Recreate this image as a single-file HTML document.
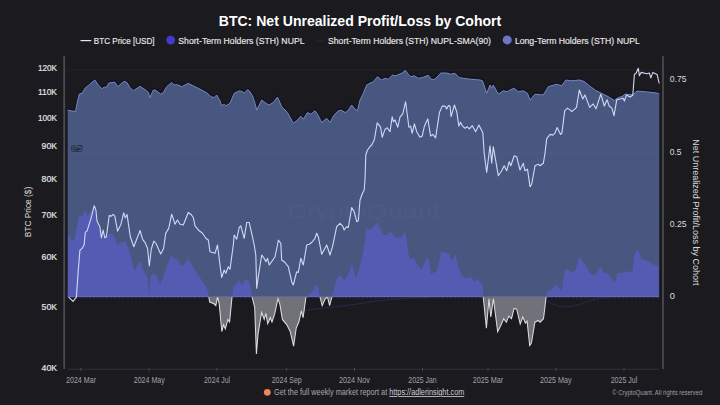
<!DOCTYPE html>
<html><head><meta charset="utf-8">
<style>
html,body{margin:0;padding:0;background:#1b1a1f;}
body{width:720px;height:405px;overflow:hidden;position:relative;}
svg{position:absolute;left:0;top:0;}
text{font-family:"Liberation Sans",sans-serif;}
</style></head><body>
<svg width="720" height="405" viewBox="0 0 720 405">
<defs>
<clipPath id="pos"><rect x="0" y="0" width="720" height="297.0"/></clipPath>
<clipPath id="neg"><rect x="0" y="297.0" width="720" height="120"/></clipPath>
</defs>
<rect width="720" height="405" fill="#1b1a1f"/>
<!-- title -->
<text x="360" y="25.8" text-anchor="middle" font-size="14.6" font-weight="bold" fill="#ffffff" textLength="282.5" lengthAdjust="spacingAndGlyphs">BTC: Net Unrealized Profit/Loss by Cohort</text>
<!-- legend -->
<line x1="80.5" y1="40.6" x2="91.2" y2="40.6" stroke="#e8e8e8" stroke-width="1.2"/>
<text x="93.8" y="43.9" font-size="9" fill="#e8e8e8" stroke="#e8e8e8" stroke-width="0.15" textLength="60.7" lengthAdjust="spacingAndGlyphs">BTC Price [USD]</text>
<circle cx="170.6" cy="40.1" r="4.4" fill="#4539cc"/>
<text x="178.3" y="43.9" font-size="9" fill="#e8e8e8" stroke="#e8e8e8" stroke-width="0.15" textLength="126.2" lengthAdjust="spacingAndGlyphs">Short-Term Holders (STH) NUPL</text>
<line x1="315" y1="41" x2="323.7" y2="41" stroke="#25243a" stroke-width="1.2"/>
<text x="328" y="43.9" font-size="9" fill="#e8e8e8" stroke="#e8e8e8" stroke-width="0.15" textLength="162.9" lengthAdjust="spacingAndGlyphs">Short-Term Holders (STH) NUPL-SMA(90)</text>
<circle cx="507.2" cy="39.9" r="4.5" fill="#6b77c4"/>
<text x="514.9" y="43.9" font-size="9" fill="#e8e8e8" stroke="#e8e8e8" stroke-width="0.15" textLength="124.9" lengthAdjust="spacingAndGlyphs">Long-Term Holders (STH) NUPL</text>
<!-- gridlines -->
<line x1="67.7" y1="70.1" x2="659" y2="70.1" stroke="#252429" stroke-width="1"/>
<line x1="67.7" y1="78.7" x2="659" y2="78.7" stroke="#1f1e24" stroke-width="1"/>
<!-- SMA lines -->
<polyline points="300.0,311.5 315.0,309.0 330.0,307.5 345.0,305.5 356.7,304.2 370.0,302.0 390.0,299.5 410.0,298.0 430.0,297.3" fill="none" stroke="#29285a" stroke-width="0.9"/>
<polyline points="540.0,299.0 550.0,302.8 558.9,306.1 570.0,306.7 580.0,304.4 587.8,301.1 596.7,298.9 610.0,297.5" fill="none" stroke="#29285a" stroke-width="0.9"/>
<!-- LTH -->
<polyline points="67.7,110.2 71.1,110.8 75.5,111.5 77.6,101.0 79.3,94.0 82.2,93.3 85.2,88.0 89.6,84.4 94.8,80.0 98.5,85.2 102.2,88.9 104.4,86.7 105.9,88.0 108.9,83.0 114.8,82.2 117.8,86.7 123.7,81.5 126.7,82.2 130.0,87.5 133.3,90.8 140.0,86.3 146.7,90.8 148.3,92.5 150.0,97.5 153.3,90.0 155.8,90.3 160.8,94.2 163.3,92.5 166.7,86.7 171.7,82.5 174.2,85.0 177.5,84.7 181.7,86.7 188.3,83.3 193.3,85.8 200.0,89.2 207.5,93.3 210.8,96.7 214.2,97.5 216.7,95.0 220.0,100.8 221.7,105.8 224.2,104.2 225.8,105.8 230.0,103.3 234.2,93.3 239.2,90.8 242.5,91.7 244.2,93.3 247.5,89.7 249.2,90.8 252.5,95.8 255.0,103.3 256.7,110.0 261.7,100.0 265.0,102.5 266.7,103.7 269.2,105.0 273.3,102.5 277.5,97.0 281.7,106.7 287.5,112.5 293.3,123.3 297.5,120.0 300.8,116.3 303.3,119.2 307.5,112.5 310.8,114.2 315.0,110.8 317.5,114.2 321.7,122.5 326.7,118.3 330.0,122.5 334.2,115.0 338.3,110.8 341.7,110.3 345.0,112.5 347.5,111.3 351.7,105.0 355.0,109.2 357.5,110.8 360.0,100.0 363.3,93.3 366.7,85.0 370.0,83.3 373.3,81.7 377.5,76.7 381.7,80.0 385.0,78.3 388.3,79.2 392.5,75.0 395.8,75.8 399.2,74.2 401.7,73.3 405.3,70.3 408.3,74.2 410.8,76.7 414.2,75.8 418.3,78.3 422.5,77.5 428.3,75.3 431.7,79.7 435.0,79.2 440.8,73.0 446.7,73.0 450.8,74.2 455.0,73.3 459.2,77.5 463.3,78.3 470.0,79.2 476.7,79.7 480.0,80.0 482.5,80.8 486.7,93.3 490.0,85.0 491.7,88.3 493.3,85.0 498.3,94.2 503.3,90.8 507.5,91.7 510.0,90.0 514.2,88.3 518.3,91.7 523.3,90.8 527.5,93.3 530.0,100.0 535.0,94.2 543.3,95.0 548.3,86.7 556.7,84.2 561.7,85.8 565.8,80.0 570.8,80.8 580.0,80.0 584.2,81.5 589.6,85.9 595.6,90.4 603.0,94.0 608.9,97.0 614.8,100.7 616.3,98.5 622.2,96.3 625.2,94.0 632.6,94.8 637.0,91.1 641.1,91.4 649.4,92.2 657.8,93.2 659.2,93.9" fill="none" stroke="#121527" stroke-width="2.6" stroke-linejoin="round" transform="translate(0,-0.9)" opacity="0.9"/>
<polygon points="67.7,297.0 67.7,110.2 71.1,110.8 75.5,111.5 77.6,101.0 79.3,94.0 82.2,93.3 85.2,88.0 89.6,84.4 94.8,80.0 98.5,85.2 102.2,88.9 104.4,86.7 105.9,88.0 108.9,83.0 114.8,82.2 117.8,86.7 123.7,81.5 126.7,82.2 130.0,87.5 133.3,90.8 140.0,86.3 146.7,90.8 148.3,92.5 150.0,97.5 153.3,90.0 155.8,90.3 160.8,94.2 163.3,92.5 166.7,86.7 171.7,82.5 174.2,85.0 177.5,84.7 181.7,86.7 188.3,83.3 193.3,85.8 200.0,89.2 207.5,93.3 210.8,96.7 214.2,97.5 216.7,95.0 220.0,100.8 221.7,105.8 224.2,104.2 225.8,105.8 230.0,103.3 234.2,93.3 239.2,90.8 242.5,91.7 244.2,93.3 247.5,89.7 249.2,90.8 252.5,95.8 255.0,103.3 256.7,110.0 261.7,100.0 265.0,102.5 266.7,103.7 269.2,105.0 273.3,102.5 277.5,97.0 281.7,106.7 287.5,112.5 293.3,123.3 297.5,120.0 300.8,116.3 303.3,119.2 307.5,112.5 310.8,114.2 315.0,110.8 317.5,114.2 321.7,122.5 326.7,118.3 330.0,122.5 334.2,115.0 338.3,110.8 341.7,110.3 345.0,112.5 347.5,111.3 351.7,105.0 355.0,109.2 357.5,110.8 360.0,100.0 363.3,93.3 366.7,85.0 370.0,83.3 373.3,81.7 377.5,76.7 381.7,80.0 385.0,78.3 388.3,79.2 392.5,75.0 395.8,75.8 399.2,74.2 401.7,73.3 405.3,70.3 408.3,74.2 410.8,76.7 414.2,75.8 418.3,78.3 422.5,77.5 428.3,75.3 431.7,79.7 435.0,79.2 440.8,73.0 446.7,73.0 450.8,74.2 455.0,73.3 459.2,77.5 463.3,78.3 470.0,79.2 476.7,79.7 480.0,80.0 482.5,80.8 486.7,93.3 490.0,85.0 491.7,88.3 493.3,85.0 498.3,94.2 503.3,90.8 507.5,91.7 510.0,90.0 514.2,88.3 518.3,91.7 523.3,90.8 527.5,93.3 530.0,100.0 535.0,94.2 543.3,95.0 548.3,86.7 556.7,84.2 561.7,85.8 565.8,80.0 570.8,80.8 580.0,80.0 584.2,81.5 589.6,85.9 595.6,90.4 603.0,94.0 608.9,97.0 614.8,100.7 616.3,98.5 622.2,96.3 625.2,94.0 632.6,94.8 637.0,91.1 641.1,91.4 649.4,92.2 657.8,93.2 659.2,93.9 659.2,297.0" fill="#48577f"/>
<polyline points="67.7,110.2 71.1,110.8 75.5,111.5 77.6,101.0 79.3,94.0 82.2,93.3 85.2,88.0 89.6,84.4 94.8,80.0 98.5,85.2 102.2,88.9 104.4,86.7 105.9,88.0 108.9,83.0 114.8,82.2 117.8,86.7 123.7,81.5 126.7,82.2 130.0,87.5 133.3,90.8 140.0,86.3 146.7,90.8 148.3,92.5 150.0,97.5 153.3,90.0 155.8,90.3 160.8,94.2 163.3,92.5 166.7,86.7 171.7,82.5 174.2,85.0 177.5,84.7 181.7,86.7 188.3,83.3 193.3,85.8 200.0,89.2 207.5,93.3 210.8,96.7 214.2,97.5 216.7,95.0 220.0,100.8 221.7,105.8 224.2,104.2 225.8,105.8 230.0,103.3 234.2,93.3 239.2,90.8 242.5,91.7 244.2,93.3 247.5,89.7 249.2,90.8 252.5,95.8 255.0,103.3 256.7,110.0 261.7,100.0 265.0,102.5 266.7,103.7 269.2,105.0 273.3,102.5 277.5,97.0 281.7,106.7 287.5,112.5 293.3,123.3 297.5,120.0 300.8,116.3 303.3,119.2 307.5,112.5 310.8,114.2 315.0,110.8 317.5,114.2 321.7,122.5 326.7,118.3 330.0,122.5 334.2,115.0 338.3,110.8 341.7,110.3 345.0,112.5 347.5,111.3 351.7,105.0 355.0,109.2 357.5,110.8 360.0,100.0 363.3,93.3 366.7,85.0 370.0,83.3 373.3,81.7 377.5,76.7 381.7,80.0 385.0,78.3 388.3,79.2 392.5,75.0 395.8,75.8 399.2,74.2 401.7,73.3 405.3,70.3 408.3,74.2 410.8,76.7 414.2,75.8 418.3,78.3 422.5,77.5 428.3,75.3 431.7,79.7 435.0,79.2 440.8,73.0 446.7,73.0 450.8,74.2 455.0,73.3 459.2,77.5 463.3,78.3 470.0,79.2 476.7,79.7 480.0,80.0 482.5,80.8 486.7,93.3 490.0,85.0 491.7,88.3 493.3,85.0 498.3,94.2 503.3,90.8 507.5,91.7 510.0,90.0 514.2,88.3 518.3,91.7 523.3,90.8 527.5,93.3 530.0,100.0 535.0,94.2 543.3,95.0 548.3,86.7 556.7,84.2 561.7,85.8 565.8,80.0 570.8,80.8 580.0,80.0 584.2,81.5 589.6,85.9 595.6,90.4 603.0,94.0 608.9,97.0 614.8,100.7 616.3,98.5 622.2,96.3 625.2,94.0 632.6,94.8 637.0,91.1 641.1,91.4 649.4,92.2 657.8,93.2 659.2,93.9" fill="none" stroke="#7b88b8" stroke-width="1"/>
<!-- gridlines over area -->
<line x1="67.7" y1="152.3" x2="659" y2="152.3" stroke="#4e5d88" stroke-width="0.8"/>
<text x="287.5" y="217.5" font-size="20" fill="#ffffff" opacity="0.022" textLength="152.5" lengthAdjust="spacingAndGlyphs">CryptoQuant</text>
<!-- STH -->
<line x1="67.7" y1="297.9" x2="659" y2="297.9" stroke="#2a2858" stroke-width="1.4" stroke-dasharray="2.2,2"/>

<polygon points="67.8,297.0 68.1,236.1 69.8,235.6 72.0,241.1 74.2,240.0 77.0,226.7 78.7,216.7 80.3,215.6 82.6,216.7 84.2,210.6 85.9,212.2 87.6,215.6 89.8,213.3 92.0,210.0 94.2,206.1 96.4,218.9 98.7,226.7 100.9,233.3 103.1,237.8 105.3,236.7 108.7,234.4 110.9,233.3 114.2,235.6 117.4,245.0 122.3,242.0 125.7,241.0 129.2,250.4 134.4,271.1 137.0,266.0 139.8,261.3 144.5,272.2 147.9,279.0 149.3,297.0 150.6,276.2 153.3,272.9 156.7,275.6 160.1,284.4 163.5,276.2 167.6,264.0 171.0,255.2 175.0,259.0 177.5,260.0 181.7,265.8 184.2,265.0 188.3,258.3 191.7,264.2 195.0,270.0 200.0,277.5 205.0,285.0 208.3,291.7 208.8,297.0 209.7,302.1 214.0,303.8 215.8,305.6 217.5,297.0 219.2,303.8 221.8,331.5 223.5,324.6 225.3,328.9 227.9,319.4 229.6,322.0 232.0,297.0 233.3,286.7 236.7,283.3 239.2,280.0 241.7,285.8 245.0,280.0 248.3,280.0 250.8,288.3 252.1,297.0 254.7,307.3 256.4,354.0 258.1,333.3 261.6,312.5 264.2,319.4 265.9,313.4 267.7,323.7 270.3,317.7 272.0,322.0 274.6,314.2 278.0,298.7 279.8,303.8 282.4,319.4 286.7,324.6 290.2,331.5 293.6,346.2 296.2,328.1 298.8,322.0 301.4,310.8 303.1,317.7 305.7,298.7 305.9,297.0 308.9,294.4 313.3,290.0 316.3,284.1 318.5,288.5 320.0,297.0 322.2,305.6 325.2,298.9 327.5,297.0 329.6,305.6 331.9,297.0 334.1,287.0 338.5,275.9 340.7,275.2 344.4,280.4 347.4,276.7 351.9,264.1 356.3,278.1 359.3,267.8 362.2,256.7 365.2,240.0 366.0,228.3 370.0,230.0 373.3,226.7 376.7,222.5 380.0,226.7 383.3,235.0 386.7,235.0 391.7,231.7 395.0,237.5 400.8,237.5 405.0,231.7 406.7,238.7 408.5,254.2 411.0,260.3 413.7,256.8 417.1,264.6 421.4,269.8 424.0,263.7 428.4,256.8 431.0,274.1 437.0,270.7 441.3,251.6 445.7,252.5 449.1,254.2 451.7,261.1 455.2,254.2 457.8,264.6 461.2,274.1 464.7,278.4 470.7,276.7 474.2,281.9 478.5,278.4 482.9,287.1 483.2,297.0 483.8,302.3 486.4,328.3 489.0,298.8 490.8,317.0 493.4,298.8 497.7,331.7 501.1,324.8 503.7,318.7 506.3,322.2 508.9,316.1 511.5,318.7 514.1,308.4 516.7,309.2 520.2,323.9 522.8,317.0 525.4,323.1 527.1,321.3 529.7,345.6 531.4,343.0 534.9,322.2 538.3,320.5 540.1,322.2 543.5,318.7 546.1,297.0 547.2,291.9 550.8,290.1 557.1,284.6 559.9,289.2 561.7,291.0 564.4,271.1 567.1,269.3 570.7,272.0 575.2,271.1 579.5,256.2 582.4,262.1 585.1,263.0 587.8,269.3 591.4,274.7 595.1,275.6 600.5,266.6 604.1,273.8 606.8,272.0 612.2,279.2 614.9,282.8 617.6,272.9 623.0,272.9 626.6,271.1 632.1,272.9 634.8,253.0 638.4,250.3 641.1,258.5 648.3,261.2 652.8,263.9 656.4,265.7 658.8,266.6 658.8,297.0" fill="#535bb3" clip-path="url(#pos)"/>
<polygon points="67.8,297.0 68.1,236.1 69.8,235.6 72.0,241.1 74.2,240.0 77.0,226.7 78.7,216.7 80.3,215.6 82.6,216.7 84.2,210.6 85.9,212.2 87.6,215.6 89.8,213.3 92.0,210.0 94.2,206.1 96.4,218.9 98.7,226.7 100.9,233.3 103.1,237.8 105.3,236.7 108.7,234.4 110.9,233.3 114.2,235.6 117.4,245.0 122.3,242.0 125.7,241.0 129.2,250.4 134.4,271.1 137.0,266.0 139.8,261.3 144.5,272.2 147.9,279.0 149.3,297.0 150.6,276.2 153.3,272.9 156.7,275.6 160.1,284.4 163.5,276.2 167.6,264.0 171.0,255.2 175.0,259.0 177.5,260.0 181.7,265.8 184.2,265.0 188.3,258.3 191.7,264.2 195.0,270.0 200.0,277.5 205.0,285.0 208.3,291.7 208.8,297.0 209.7,302.1 214.0,303.8 215.8,305.6 217.5,297.0 219.2,303.8 221.8,331.5 223.5,324.6 225.3,328.9 227.9,319.4 229.6,322.0 232.0,297.0 233.3,286.7 236.7,283.3 239.2,280.0 241.7,285.8 245.0,280.0 248.3,280.0 250.8,288.3 252.1,297.0 254.7,307.3 256.4,354.0 258.1,333.3 261.6,312.5 264.2,319.4 265.9,313.4 267.7,323.7 270.3,317.7 272.0,322.0 274.6,314.2 278.0,298.7 279.8,303.8 282.4,319.4 286.7,324.6 290.2,331.5 293.6,346.2 296.2,328.1 298.8,322.0 301.4,310.8 303.1,317.7 305.7,298.7 305.9,297.0 308.9,294.4 313.3,290.0 316.3,284.1 318.5,288.5 320.0,297.0 322.2,305.6 325.2,298.9 327.5,297.0 329.6,305.6 331.9,297.0 334.1,287.0 338.5,275.9 340.7,275.2 344.4,280.4 347.4,276.7 351.9,264.1 356.3,278.1 359.3,267.8 362.2,256.7 365.2,240.0 366.0,228.3 370.0,230.0 373.3,226.7 376.7,222.5 380.0,226.7 383.3,235.0 386.7,235.0 391.7,231.7 395.0,237.5 400.8,237.5 405.0,231.7 406.7,238.7 408.5,254.2 411.0,260.3 413.7,256.8 417.1,264.6 421.4,269.8 424.0,263.7 428.4,256.8 431.0,274.1 437.0,270.7 441.3,251.6 445.7,252.5 449.1,254.2 451.7,261.1 455.2,254.2 457.8,264.6 461.2,274.1 464.7,278.4 470.7,276.7 474.2,281.9 478.5,278.4 482.9,287.1 483.2,297.0 483.8,302.3 486.4,328.3 489.0,298.8 490.8,317.0 493.4,298.8 497.7,331.7 501.1,324.8 503.7,318.7 506.3,322.2 508.9,316.1 511.5,318.7 514.1,308.4 516.7,309.2 520.2,323.9 522.8,317.0 525.4,323.1 527.1,321.3 529.7,345.6 531.4,343.0 534.9,322.2 538.3,320.5 540.1,322.2 543.5,318.7 546.1,297.0 547.2,291.9 550.8,290.1 557.1,284.6 559.9,289.2 561.7,291.0 564.4,271.1 567.1,269.3 570.7,272.0 575.2,271.1 579.5,256.2 582.4,262.1 585.1,263.0 587.8,269.3 591.4,274.7 595.1,275.6 600.5,266.6 604.1,273.8 606.8,272.0 612.2,279.2 614.9,282.8 617.6,272.9 623.0,272.9 626.6,271.1 632.1,272.9 634.8,253.0 638.4,250.3 641.1,258.5 648.3,261.2 652.8,263.9 656.4,265.7 658.8,266.6 658.8,297.0" fill="#707179" clip-path="url(#neg)"/>
<polyline points="67.8,297.0 68.1,236.1 69.8,235.6 72.0,241.1 74.2,240.0 77.0,226.7 78.7,216.7 80.3,215.6 82.6,216.7 84.2,210.6 85.9,212.2 87.6,215.6 89.8,213.3 92.0,210.0 94.2,206.1 96.4,218.9 98.7,226.7 100.9,233.3 103.1,237.8 105.3,236.7 108.7,234.4 110.9,233.3 114.2,235.6 117.4,245.0 122.3,242.0 125.7,241.0 129.2,250.4 134.4,271.1 137.0,266.0 139.8,261.3 144.5,272.2 147.9,279.0 149.3,297.0 150.6,276.2 153.3,272.9 156.7,275.6 160.1,284.4 163.5,276.2 167.6,264.0 171.0,255.2 175.0,259.0 177.5,260.0 181.7,265.8 184.2,265.0 188.3,258.3 191.7,264.2 195.0,270.0 200.0,277.5 205.0,285.0 208.3,291.7 208.8,297.0 209.7,302.1 214.0,303.8 215.8,305.6 217.5,297.0 219.2,303.8 221.8,331.5 223.5,324.6 225.3,328.9 227.9,319.4 229.6,322.0 232.0,297.0 233.3,286.7 236.7,283.3 239.2,280.0 241.7,285.8 245.0,280.0 248.3,280.0 250.8,288.3 252.1,297.0 254.7,307.3 256.4,354.0 258.1,333.3 261.6,312.5 264.2,319.4 265.9,313.4 267.7,323.7 270.3,317.7 272.0,322.0 274.6,314.2 278.0,298.7 279.8,303.8 282.4,319.4 286.7,324.6 290.2,331.5 293.6,346.2 296.2,328.1 298.8,322.0 301.4,310.8 303.1,317.7 305.7,298.7 305.9,297.0 308.9,294.4 313.3,290.0 316.3,284.1 318.5,288.5 320.0,297.0 322.2,305.6 325.2,298.9 327.5,297.0 329.6,305.6 331.9,297.0 334.1,287.0 338.5,275.9 340.7,275.2 344.4,280.4 347.4,276.7 351.9,264.1 356.3,278.1 359.3,267.8 362.2,256.7 365.2,240.0 366.0,228.3 370.0,230.0 373.3,226.7 376.7,222.5 380.0,226.7 383.3,235.0 386.7,235.0 391.7,231.7 395.0,237.5 400.8,237.5 405.0,231.7 406.7,238.7 408.5,254.2 411.0,260.3 413.7,256.8 417.1,264.6 421.4,269.8 424.0,263.7 428.4,256.8 431.0,274.1 437.0,270.7 441.3,251.6 445.7,252.5 449.1,254.2 451.7,261.1 455.2,254.2 457.8,264.6 461.2,274.1 464.7,278.4 470.7,276.7 474.2,281.9 478.5,278.4 482.9,287.1 483.2,297.0 483.8,302.3 486.4,328.3 489.0,298.8 490.8,317.0 493.4,298.8 497.7,331.7 501.1,324.8 503.7,318.7 506.3,322.2 508.9,316.1 511.5,318.7 514.1,308.4 516.7,309.2 520.2,323.9 522.8,317.0 525.4,323.1 527.1,321.3 529.7,345.6 531.4,343.0 534.9,322.2 538.3,320.5 540.1,322.2 543.5,318.7 546.1,297.0 547.2,291.9 550.8,290.1 557.1,284.6 559.9,289.2 561.7,291.0 564.4,271.1 567.1,269.3 570.7,272.0 575.2,271.1 579.5,256.2 582.4,262.1 585.1,263.0 587.8,269.3 591.4,274.7 595.1,275.6 600.5,266.6 604.1,273.8 606.8,272.0 612.2,279.2 614.9,282.8 617.6,272.9 623.0,272.9 626.6,271.1 632.1,272.9 634.8,253.0 638.4,250.3 641.1,258.5 648.3,261.2 652.8,263.9 656.4,265.7 658.8,266.6 658.8,297.0" fill="none" stroke="#dcdce0" stroke-width="1.05" clip-path="url(#neg)"/>
<!-- zero line -->
<line x1="67.7" y1="296.7" x2="659" y2="296.7" stroke="#7b78b8" stroke-width="0.8" opacity="0.7"/>
<!-- price -->
<polyline points="68.7,297.1 73.0,301.4 76.4,297.1 78.2,271.1 79.9,250.4 82.5,247.8 84.2,244.4 85.3,232.2 87.0,231.1 90.9,218.9 94.2,205.6 95.9,210.0 97.0,221.1 99.8,226.7 101.4,237.8 103.1,230.0 104.8,237.8 106.4,236.7 109.2,215.6 111.4,216.1 113.1,214.4 114.8,216.1 117.6,231.1 120.9,224.4 123.7,212.8 125.3,217.8 127.0,214.4 130.3,236.7 133.8,246.8 136.7,239.3 140.1,230.5 142.6,239.3 145.1,242.6 147.6,248.5 149.3,266.0 151.3,249.0 153.9,241.0 156.1,243.5 158.6,249.4 160.7,254.0 163.6,248.5 165.7,233.4 168.7,228.4 171.7,214.2 175.0,224.2 177.5,220.0 180.0,224.2 183.3,225.0 188.3,212.5 190.8,214.2 193.3,217.5 195.0,225.8 199.2,230.8 202.5,233.3 205.8,238.3 208.3,240.0 210.0,251.7 215.0,253.3 217.5,245.0 220.0,265.0 221.7,277.5 224.2,270.0 225.8,273.3 228.3,266.7 230.0,269.2 233.3,245.0 234.2,235.0 236.7,239.2 239.2,227.5 240.8,225.8 244.2,238.3 246.7,222.5 249.2,222.5 251.7,233.3 254.2,245.0 255.8,255.0 256.7,288.3 258.3,276.7 261.7,255.0 264.2,258.3 265.8,261.7 267.5,258.3 269.2,265.0 271.7,261.7 275.0,256.7 277.5,245.0 278.3,240.0 280.8,243.3 281.7,260.0 285.0,262.5 288.3,266.7 291.7,281.7 293.3,285.0 296.7,271.7 298.3,272.5 300.8,258.3 303.3,265.0 306.7,245.0 309.2,244.2 311.7,242.5 315.0,238.3 316.7,233.3 318.3,236.7 321.7,254.2 326.7,245.0 330.0,255.0 332.5,246.7 336.7,226.7 340.0,223.3 342.5,225.8 344.2,230.0 346.7,226.7 348.3,227.5 351.7,207.5 354.2,211.7 356.7,221.7 358.3,220.8 360.0,200.0 362.5,193.3 364.2,190.0 365.0,180.0 365.8,155.0 367.5,150.0 370.0,146.7 371.7,145.0 374.4,139.4 377.2,122.8 380.6,127.2 382.2,137.2 385.0,129.4 387.2,127.8 390.0,131.7 392.2,116.7 393.3,121.7 395.0,120.0 397.8,127.2 400.0,117.2 402.8,113.9 405.6,101.7 408.9,127.2 410.6,126.1 412.2,133.3 414.4,123.9 416.7,131.7 420.0,137.2 422.2,136.1 424.4,126.1 427.8,118.9 430.6,136.1 432.8,134.4 435.6,137.8 439.4,112.8 442.2,106.1 445.0,106.1 446.7,108.9 448.3,105.6 450.0,106.1 451.1,116.7 452.8,110.6 454.4,105.0 456.7,111.7 458.9,126.1 460.6,122.2 462.2,125.6 465.0,128.3 467.2,126.7 469.4,128.9 472.2,125.6 475.6,131.7 478.9,125.0 481.7,130.6 482.8,132.8 484.2,153.3 486.7,172.5 490.0,145.8 491.7,163.3 493.3,146.7 498.3,175.8 501.7,170.8 504.2,165.8 506.7,170.8 509.2,161.7 510.8,165.8 514.2,155.8 516.7,156.7 520.0,170.0 523.3,163.3 525.0,170.8 527.5,169.2 530.0,186.7 531.7,184.2 535.0,165.8 538.3,164.2 540.0,165.8 543.3,163.3 545.0,153.3 546.7,138.6 550.1,134.4 552.9,135.1 555.0,133.1 557.1,127.5 560.6,134.4 561.9,133.1 564.7,110.8 567.5,108.1 570.3,110.1 571.7,111.5 574.4,109.4 576.5,107.4 579.3,90.0 582.8,99.0 584.9,94.9 589.7,107.4 593.2,103.9 596.0,108.8 600.8,94.2 604.3,106.0 607.1,99.7 609.2,106.0 611.9,108.1 614.0,115.7 616.8,99.7 620.3,99.0 623.1,98.3 624.4,101.1 626.5,94.9 630.0,96.9 632.8,95.3 634.4,74.4 636.2,73.0 638.3,68.2 639.4,75.8 641.1,72.4 646.7,73.8 649.4,73.0 650.8,77.9 652.9,72.4 657.1,74.4 659.2,83.5" fill="none" stroke="#d2d8f5" stroke-width="1.1" stroke-linejoin="round"/>
<text x="71.5" y="151.2" font-size="8" fill="#6a7a72" stroke="#1a2446" stroke-width="1.7" paint-order="stroke" textLength="10.5" lengthAdjust="spacingAndGlyphs">0.5</text>
<!-- axes -->
<line x1="64.2" y1="56" x2="64.2" y2="369" stroke="#4a4a50" stroke-width="1.8"/>
<line x1="663" y1="56" x2="663" y2="369" stroke="#4a4a50" stroke-width="1.8"/>
<line x1="67.5" y1="369.2" x2="659" y2="369.2" stroke="#333238" stroke-width="1"/>
<text x="37.9" y="71.0" font-size="8.8" fill="#e4e4e4" stroke="#e4e4e4" stroke-width="0.2" textLength="19.1" lengthAdjust="spacingAndGlyphs">120K</text>
<text x="37.9" y="94.9" font-size="8.8" fill="#e4e4e4" stroke="#e4e4e4" stroke-width="0.2" textLength="19.1" lengthAdjust="spacingAndGlyphs">110K</text>
<text x="37.9" y="120.6" font-size="8.8" fill="#e4e4e4" stroke="#e4e4e4" stroke-width="0.2" textLength="19.1" lengthAdjust="spacingAndGlyphs">100K</text>
<text x="41.6" y="149.4" font-size="8.8" fill="#e4e4e4" stroke="#e4e4e4" stroke-width="0.2" textLength="15.4" lengthAdjust="spacingAndGlyphs">90K</text>
<text x="41.6" y="181.9" font-size="8.8" fill="#e4e4e4" stroke="#e4e4e4" stroke-width="0.2" textLength="15.4" lengthAdjust="spacingAndGlyphs">80K</text>
<text x="41.6" y="217.9" font-size="8.8" fill="#e4e4e4" stroke="#e4e4e4" stroke-width="0.2" textLength="15.4" lengthAdjust="spacingAndGlyphs">70K</text>
<text x="41.6" y="259.9" font-size="8.8" fill="#e4e4e4" stroke="#e4e4e4" stroke-width="0.2" textLength="15.4" lengthAdjust="spacingAndGlyphs">60K</text>
<text x="41.6" y="310.1" font-size="8.8" fill="#e4e4e4" stroke="#e4e4e4" stroke-width="0.2" textLength="15.4" lengthAdjust="spacingAndGlyphs">50K</text>
<text x="41.6" y="370.7" font-size="8.8" fill="#e4e4e4" stroke="#e4e4e4" stroke-width="0.2" textLength="15.4" lengthAdjust="spacingAndGlyphs">40K</text>
<text x="669.8" y="82.0" font-size="8.8" fill="#dcdcdc" textLength="16.7" lengthAdjust="spacingAndGlyphs">0.75</text>
<text x="669.8" y="154.5" font-size="8.8" fill="#dcdcdc" textLength="11.8" lengthAdjust="spacingAndGlyphs">0.5</text>
<text x="669.8" y="227.2" font-size="8.8" fill="#dcdcdc" textLength="16.7" lengthAdjust="spacingAndGlyphs">0.25</text>
<text x="669.8" y="299.0" font-size="8.8" fill="#dcdcdc" textLength="5.2" lengthAdjust="spacingAndGlyphs">0</text>
<text x="66" y="383.2" font-size="8.2" fill="#a2a2a6" textLength="30.0" lengthAdjust="spacingAndGlyphs">2024 Mar</text>
<text x="133.8" y="383.2" font-size="8.2" fill="#a2a2a6" textLength="30.9" lengthAdjust="spacingAndGlyphs">2024 May</text>
<text x="204" y="383.2" font-size="8.2" fill="#a2a2a6" textLength="26.0" lengthAdjust="spacingAndGlyphs">2024 Jul</text>
<text x="271.7" y="383.2" font-size="8.2" fill="#a2a2a6" textLength="30.0" lengthAdjust="spacingAndGlyphs">2024 Sep</text>
<text x="339" y="383.2" font-size="8.2" fill="#a2a2a6" textLength="31.0" lengthAdjust="spacingAndGlyphs">2024 Nov</text>
<text x="408.3" y="383.2" font-size="8.2" fill="#a2a2a6" textLength="28.4" lengthAdjust="spacingAndGlyphs">2025 Jan</text>
<text x="472.7" y="383.2" font-size="8.2" fill="#a2a2a6" textLength="30.6" lengthAdjust="spacingAndGlyphs">2025 Mar</text>
<text x="540" y="383.2" font-size="8.2" fill="#a2a2a6" textLength="31.7" lengthAdjust="spacingAndGlyphs">2025 May</text>
<text x="610.7" y="383.2" font-size="8.2" fill="#a2a2a6" textLength="26.6" lengthAdjust="spacingAndGlyphs">2025 Jul</text>
<line x1="80.8" y1="368.3" x2="80.8" y2="370.6" stroke="#55555b" stroke-width="1"/>
<line x1="149.2" y1="368.3" x2="149.2" y2="370.6" stroke="#55555b" stroke-width="1"/>
<line x1="217" y1="368.3" x2="217" y2="370.6" stroke="#55555b" stroke-width="1"/>
<line x1="286.7" y1="368.3" x2="286.7" y2="370.6" stroke="#55555b" stroke-width="1"/>
<line x1="354.5" y1="368.3" x2="354.5" y2="370.6" stroke="#55555b" stroke-width="1"/>
<line x1="422.5" y1="368.3" x2="422.5" y2="370.6" stroke="#55555b" stroke-width="1"/>
<line x1="488" y1="368.3" x2="488" y2="370.6" stroke="#55555b" stroke-width="1"/>
<line x1="555.8" y1="368.3" x2="555.8" y2="370.6" stroke="#55555b" stroke-width="1"/>
<line x1="624" y1="368.3" x2="624" y2="370.6" stroke="#55555b" stroke-width="1"/>
<text transform="translate(31.3,212) rotate(-90)" text-anchor="middle" font-size="9" fill="#dcdcdc" textLength="50.4" lengthAdjust="spacingAndGlyphs">BTC Price ($)</text>
<text transform="translate(693,212.4) rotate(90)" text-anchor="middle" font-size="9.2" fill="#dcdcdc" textLength="146.4" lengthAdjust="spacingAndGlyphs">Net Unrealized Profit/Loss by Cohort</text>
<circle cx="267.3" cy="392.3" r="3.4" fill="#f0845a"/>
<text x="274" y="395.2" font-size="8.3" fill="#a9a9ad" textLength="190.3" lengthAdjust="spacingAndGlyphs">Get the full weekly market report at <tspan fill="#d0d0d4" text-decoration="underline">https://adlerinsight.com</tspan></text>
<text x="612.3" y="395.4" font-size="7.4" fill="#a0a0a4" textLength="90" lengthAdjust="spacingAndGlyphs">© CryptoQuant. All rights reserved</text>
</svg>
</body></html>
